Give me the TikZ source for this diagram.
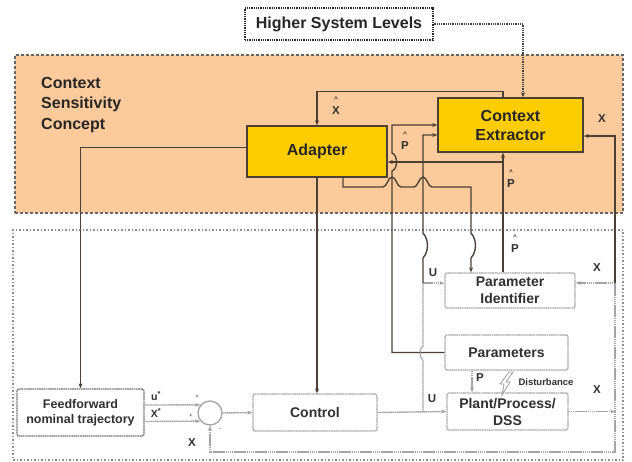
\documentclass[tikz,border=0pt]{standalone}
\usepackage{fontspec}
\setmainfont{Liberation Sans}
\usetikzlibrary{arrows.meta,calc}
\definecolor{orfill}{HTML}{FDCB9B}
\definecolor{goldc}{HTML}{FFCC00}
\definecolor{dkc}{HTML}{4A4036}
\definecolor{grc}{HTML}{A4A4A4}
\definecolor{gtxt}{HTML}{303030}
\newcommand{\hatlbl}[1]{{\fontsize{6.5}{6.5}\selectfont\textasciicircum}\\[1pt]#1}
\tikzset{
  tip/.style={-{Stealth[length=5pt,width=4pt]}},
  dkline/.style={draw=dkc, line width=1.4pt},
  grline/.style={draw=grc, line width=1.4pt, dash pattern=on 1.6pt off 0.5pt},
  goldbox/.style={draw=dkc, line width=1.5pt, fill=goldc, inner sep=0pt,
    font=\fontsize{16}{19}\selectfont\bfseries, align=center, text=black!85},
  lowbox/.style={draw=grc, line width=1.3pt, dash pattern=on 1.6pt off 0.6pt,
    rounded corners=2pt, fill=white, inner sep=0pt,
    font=\fontsize{14}{17}\selectfont\bfseries, text=gtxt, align=center},
  lbl/.style={font=\fontsize{11.5}{13}\selectfont\bfseries, text=gtxt, inner sep=0pt},
  hlbl/.style={font=\fontsize{11.5}{12}\selectfont\bfseries, text=gtxt, inner sep=0pt, align=center},
  sgn/.style={font=\fontsize{6}{7}\selectfont, text=gtxt, inner sep=0pt}
}
\begin{document}
\begin{tikzpicture}[x=1pt,y=-1pt]
\useasboundingbox (0,0) rectangle (632,461);
% regions
\fill[white] (0,0) rectangle (632,461);
\node[draw=black!60, line width=1.4pt, dash pattern=on 3pt off 2pt, fill=orfill,
  minimum width=608pt, minimum height=158pt, inner sep=0pt] (upper) at (319,134) {};
\node[draw=black!45, line width=1.2pt, dash pattern=on 1.5pt off 2pt,
  minimum width=610pt, minimum height=230pt, inner sep=0pt] (lower) at (318,345) {};
\node[anchor=north west, align=left, inner sep=0pt, text=black!85,
  font=\fontsize{16}{20.5}\selectfont\bfseries] (csc) at (41,77) {Context\\Sensitivity\\Concept};

% boxes
\node[draw=black!85, line width=1.3pt, dash pattern=on 1pt off 0.8pt, fill=white,
  minimum width=188pt, minimum height=32pt, inner sep=0pt, text=black!85,
  font=\fontsize{16}{19}\selectfont\bfseries] (hsl) at (339,24) {Higher System Levels};
\node[goldbox, minimum width=140pt, minimum height=51pt] (adapter) at (317,151.5) {Adapter};
\node[goldbox, minimum width=145pt, minimum height=54pt] (extractor) at (510.5,125) {Context\\Extractor};
\node[lowbox, minimum width=130pt, minimum height=35pt] (pid) at (510,290.5) {Parameter\\Identifier};
\node[lowbox, minimum width=123pt, minimum height=35pt] (params) at (506.5,352.5) {Parameters};
\node[lowbox, minimum width=121pt, minimum height=37pt] (plant) at (507.5,411.5) {Plant/Process/\\DSS};
\node[lowbox, minimum width=124pt, minimum height=37pt] (control) at (315,412.5) {Control};
\node[lowbox, draw=black!55, minimum width=127pt, minimum height=47pt,
  font=\fontsize{12.5}{15}\selectfont\bfseries] (ff) at (80.5,412.5) {Feedforward\\nominal trajectory};
\node[circle, draw=grc, line width=1.3pt, fill=white, minimum size=24pt, inner sep=0pt] (sum) at (210,413) {};

% helper coordinates
\coordinate (c343) at (343,0);
\coordinate (c392) at (392,0);
\coordinate (c471) at (471,0);
\coordinate (c472) at (472,0);
\coordinate (c503) at (503,0);
\coordinate (c523) at (523,0);
\coordinate (r162) at (0,162);
\coordinate (uj) at (423,412);
\coordinate (ut) at (423,283);
\coordinate (xj) at (615,411.5);
\coordinate (xt) at (615,283);

% Higher System Levels -> extractor
\draw[draw=black!75, line width=1.3pt, dash pattern=on 1pt off 0.8pt, tip] (hsl.east) -| (c523 |- extractor.north);
% X hat : extractor -> adapter
\draw[dkline, tip] (c503 |- extractor.north) -- ++(0,-6) -| (adapter.north);
% adapter -> feedforward
\draw[dkline, tip] ($(adapter.west)+(0,-4)$) -| (ff.north);
% adapter -> control
\draw[dkline, tip] (adapter.south) -- (adapter.south |- control.north);
% adapter -> parameter identifier (with jumps)
\draw[dkline, tip] (c343 |- adapter.south) -- (343,187) -- (383,187)
  .. controls (387,187) and (388,177) .. (392,177)
  .. controls (396,177) and (397,187) .. (401,187) -- (414,187)
  .. controls (418,187) and (419,177) .. (423,177)
  .. controls (427,177) and (428,187) .. (432,187) -- (471,187) -- (471,233)
  .. controls (477,240) and (477,251) .. (471,258) -- (c471 |- pid.north);
% parameters -> extractor
\draw[dkline, tip] (params.west) -- (c392 |- params.west) -- (392,171)
  .. controls (398,169) and (398,155) .. (392,153) -- (c392 |- extractor.west) -- (extractor.west);
% P hat : identifier -> extractor, -> adapter
\draw[dkline, tip] (c503 |- pid.north) -- (c503 |- extractor.south);
\draw[dkline, tip] (c503 |- r162) -- (adapter.east |- r162);
% U
\draw[grline, tip] (control.east) -- (plant.west);
\draw[grline] (uj) -- (423,360) .. controls (419,358) and (419,348) .. (423,346) -- (ut);
\draw[grline, tip] (ut) -- ($(pid.west)+(0,-7.5)$);
\draw[dkline, tip] (ut) -- (423,258) .. controls (429,251) and (429,240) .. (423,233)
  -- (423,135) -- ($(extractor.west)+(0,10)$);
% X
\draw[grline, tip] (plant.east) -- (xj);
\draw[grline, tip] (xj) -- (615,452) -| (sum.south);
\draw[grline, tip] (xj) -- (xt) -- ($(pid.east)+(0,-7.5)$);
\draw[dkline, tip] (xt) -- (615,136) -- ($(extractor.east)+(0,11)$);
% feedforward -> sum -> control
\draw[grline, tip] ($(ff.east)+(0,-7.5)$) -- (sum.140);
\draw[grline, tip] ($(ff.east)+(0,9)$) -- (sum.220);
\draw[grline, tip] (sum.east) -- (control.west);
% parameters -> plant
\draw[grline, tip] (c472 |- params.south) -- (c472 |- plant.north);
% disturbance bolt
\draw[draw=grc, line width=0.9pt, fill=white] (513,372) -- (506,382) -- (510,382) -- (502,395)
  -- (504,384) -- (500,384) -- (509,372) -- cycle;

% labels
\node[hlbl] (lxh) at (336,106) {\hatlbl{X}};
\node[hlbl] (lph1) at (405,141) {\hatlbl{P}};
\node[hlbl] (lph2) at (511,179) {\hatlbl{P}};
\node[hlbl] (lph3) at (515,244) {\hatlbl{P}};
\node[lbl] (lx1) at (602,119) {X};
\node[lbl] (lx2) at (597,268) {X};
\node[lbl] (lx3) at (597,390) {X};
\node[lbl] (lx4) at (192,443) {X};
\node[lbl] (lu1) at (433,273) {U};
\node[lbl] (lu2) at (432,399) {U};
\node[lbl] (lp) at (480,378) {P};
\node[lbl, font=\fontsize{9.5}{11}\selectfont\bfseries] (ldist) at (546,382) {Disturbance};
\node[lbl, font=\fontsize{10.5}{12}\selectfont\bfseries] (lus) at (156,396) {u\textsuperscript{*}};
\node[lbl, font=\fontsize{10.5}{12}\selectfont\bfseries] (lxs) at (156,413) {X\textsuperscript{*}};
\node[sgn] (s1) at (197,397) {+};
\node[sgn] (s2) at (191,416) {+};
\node[sgn] (s3) at (220,430) {-};
\end{tikzpicture}
\end{document}
